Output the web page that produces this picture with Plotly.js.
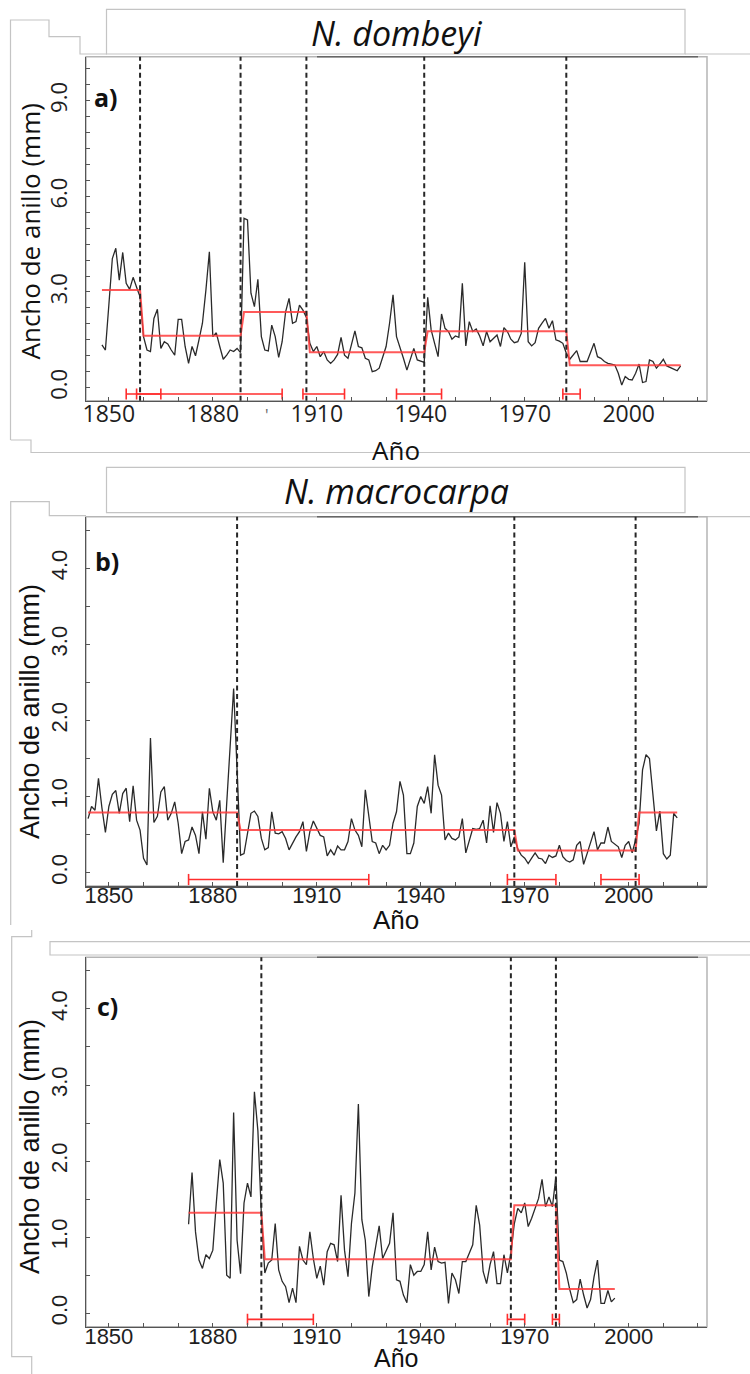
<!DOCTYPE html>
<html>
<head>
<meta charset="utf-8">
<script src="https://cdn.plot.ly/plotly-3.0.1.min.js"></script>
<style>
html,body{margin:0;padding:0;background:#ffffff;}
#chart{width:750px;height:1374px;}
</style>
</head>
<body>
<div id="chart"></div>
<script>
// ---------------- DATA ----------------
// Panel a) N. dombeyi : ring width (mm), yearly from 1848
const startYearA = 1848;
const ringWidthA = [
  1.34, 1.18,
  2.6, 4.05, 4.37, 3.37, 4.24, 3.27, 3.08, 3.46, 3.15, 2.85,
  1.6, 1.18, 1.13, 2.17, 2.46, 1.23, 1.44, 1.37, 1.18, 1.02,
  2.14, 2.14, 1.29, 0.76, 1.29, 1.0, 1.5, 2.02, 3.06, 4.26,
  1.6, 1.72, 1.29, 0.89, 1.02, 1.18, 1.13, 1.23, 1.1, 5.31,
  5.26, 2.96, 2.54, 3.4, 1.6, 1.18, 1.15, 1.96, 1.6, 0.95,
  1.44, 2.38, 2.8, 2.02, 2.07, 2.59, 2.43, 2.2, 1.39, 1.13,
  1.29, 0.97, 1.13, 0.87, 0.76, 0.87, 1.04, 1.58, 1.02, 0.92,
  1.35, 1.78, 1.29, 1.25, 0.92, 0.87, 0.5, 0.53, 0.61, 0.92,
  1.29, 2.02, 2.91, 1.6, 1.29, 0.92, 0.55, 0.87, 1.23, 0.87,
  0.82, 0.79, 2.83, 1.81, 1.39, 0.97, 2.31, 1.86, 1.76, 1.52,
  1.62, 1.58, 3.27, 1.31, 2.07, 1.76, 1.84, 1.62, 1.31, 1.76,
  1.44, 1.55, 1.65, 1.29, 1.88, 1.76, 1.52, 1.41, 1.44, 1.7,
  3.93, 1.44, 1.31, 1.41, 1.86, 2.02, 2.17, 1.86, 2.1, 1.5,
  1.46, 1.39, 1.08, 0.89, 1.02, 1.16, 0.82, 0.82, 0.82, 1.1,
  1.39, 0.97, 0.92, 0.82, 0.76, 0.74, 0.71, 0.45, 0.08, 0.35,
  0.26, 0.24, 0.45, 0.74, 0.16, 0.19, 0.87, 0.82, 0.61, 0.74,
  0.89, 0.68, 0.64, 0.58, 0.53, 0.68
];
const regimeStartA = [1848, 1860, 1889, 1908, 1942, 1983];
const regimeEndA   = [1859, 1888, 1907, 1941, 1982, 2015];
const regimeMeanA  = [3.06, 1.63, 2.37, 1.11, 1.77, 0.70];
const shiftYearsA  = [1859, 1888, 1907, 1941, 1982];
const ciStartA = [1855, 1858, 1906, 1933, 1981];
const ciEndA   = [1865, 1900, 1918, 1946, 1986];
const ciLevelA = -0.2;

// Panel b) N. macrocarpa
const startYearB = 1844;
const ringWidthB = [
  0.71, 0.87, 0.82, 1.24, 0.85, 0.53,
  0.87, 1.03, 1.08, 0.78, 1.04, 1.11, 0.67, 1.14, 0.69, 0.56,
  0.19, 0.1, 1.77, 0.66, 0.74, 1.06, 1.13, 0.69, 0.78, 0.93,
  0.65, 0.25, 0.41, 0.43, 0.6, 0.49, 0.25, 0.8, 0.44, 1.11,
  0.8, 0.69, 0.95, 0.13, 0.91, 1.61, 2.42, 1.35, 0.23, 0.25,
  0.52, 0.78, 0.81, 0.74, 0.45, 0.3, 0.33, 0.8, 0.52, 0.51,
  0.54, 0.45, 0.3, 0.39, 0.47, 0.54, 0.67, 0.28, 0.54, 0.68,
  0.58, 0.49, 0.47, 0.22, 0.3, 0.23, 0.35, 0.3, 0.3, 0.41,
  0.71, 0.56, 0.49, 0.34, 1.09, 0.74, 0.41, 0.39, 0.25, 0.36,
  0.3, 0.36, 0.65, 0.8, 1.2, 1.02, 0.25, 0.25, 0.39, 0.87,
  1.0, 0.91, 1.13, 0.78, 1.55, 1.15, 1.02, 0.43, 0.52, 0.45,
  0.43, 0.47, 0.71, 0.26, 0.43, 0.58, 0.57, 0.58, 0.69, 0.39,
  0.88, 0.53, 0.92, 0.78, 0.41, 0.67, 0.34, 0.47, 0.31, 0.23,
  0.19, 0.12, 0.19, 0.26, 0.19, 0.18, 0.12, 0.23, 0.2, 0.22,
  0.36, 0.21, 0.16, 0.14, 0.17, 0.36, 0.41, 0.11, 0.25, 0.41,
  0.54, 0.3, 0.39, 0.39, 0.6, 0.41, 0.38, 0.34, 0.2, 0.36,
  0.41, 0.26, 0.43, 0.65, 1.35, 1.55, 1.5, 1.0, 0.55, 0.81,
  0.25, 0.18, 0.23, 0.78, 0.72
];
const regimeStartB = [1844, 1888, 1968, 2003];
const regimeEndB   = [1887, 1967, 2002, 2014];
const regimeMeanB  = [0.79, 0.56, 0.29, 0.79];
const shiftYearsB  = [1887, 1967, 2002];
const ciStartB = [1873, 1965, 1992];
const ciEndB   = [1925, 1979, 2003];
const ciLevelB = -0.09;

// Panel c)
const startYearC = 1873;
const ringWidthC = [
  1.17, 1.85, 1.07, 0.7, 0.59, 0.77, 0.72,
  0.83, 1.45, 2.02, 1.71, 0.5, 0.46, 2.64, 0.96, 0.52, 1.45,
  1.71, 1.53, 2.91, 2.4, 1.3, 0.53, 0.66, 0.7, 1.18, 0.57,
  0.42, 0.35, 0.14, 0.33, 0.14, 0.88, 0.7, 0.64, 1.07, 0.72,
  0.46, 0.62, 0.37, 0.81, 0.92, 0.9, 0.68, 1.55, 0.83, 0.48,
  1.18, 1.58, 2.75, 1.23, 0.96, 0.22, 0.61, 0.88, 1.15, 0.72,
  0.83, 0.92, 1.32, 0.44, 0.42, 0.24, 0.14, 0.64, 0.5, 0.55,
  0.55, 0.64, 1.07, 0.57, 0.87, 0.68, 0.66, 0.67, 0.13, 0.53,
  0.44, 0.26, 0.68, 0.68, 0.79, 0.9, 1.42, 1.16, 0.55, 0.39,
  0.64, 0.81, 0.39, 0.39, 0.77, 0.53, 0.79, 1.18, 1.38, 1.32,
  1.45, 1.14, 1.25, 1.38, 1.51, 1.76, 1.4, 1.53, 1.4, 1.8,
  0.7, 0.68, 0.53, 0.31, 0.14, 0.18, 0.45, 0.24, 0.07, 0.18,
  0.48, 0.7, 0.13, 0.13, 0.3, 0.15, 0.2
];
const regimeStartC = [1873, 1895, 1967, 1980];
const regimeEndC   = [1894, 1966, 1979, 1996];
const regimeMeanC  = [1.32, 0.71, 1.42, 0.32];
const shiftYearsC  = [1894, 1966, 1979];
const ciStartC = [1890, 1965, 1978];
const ciEndC   = [1909, 1970, 1980];
const ciLevelC = -0.08;

// Axis ticks / labels
const xTickYears  = [1850, 1880, 1910, 1940, 1970, 2000];
const xTickLabels = ['1850', '1880', '1910', '1940', '1970', '2000'];
const yTickValsA  = [0, 3, 6, 9];
const yTickTextA  = ['0.0', '3.0', '6.0', '9.0'];
const yTickValsBC = [0, 1, 2, 3, 4];
const yTickTextBC = ['0.0', '1.0', '2.0', '3.0', '4.0'];

const titleA = 'N. dombeyi';
const titleB = 'N. macrocarpa';
const panelLabels = ['a)', 'b)', 'c)'];
const xTitle = 'Año';
const yTitle = 'Ancho de anillo (mm)';

// ---------------- HELPERS ----------------
const W = 750, H = 1374;
const PX = x => x / W;
const PY = y => 1 - y / H;

function yearsFrom(start, n) { const out = []; for (let i = 0; i < n; i++) out.push(start + i); return out; }
function regimeLine(starts, ends, means) {
  const x = [], y = [];
  for (let i = 0; i < starts.length; i++) { x.push(starts[i], ends[i]); y.push(means[i], means[i]); }
  return {x, y};
}
function ciLine(starts, ends, level) {
  const x = [], y = [];
  for (let i = 0; i < starts.length; i++) { x.push(starts[i], ends[i], null); y.push(level, level, null); }
  return {x, y};
}

const BLACK = '#2a2a2a';
const REDMEAN = 'rgba(255,60,60,0.85)';
const REDCI = '#ff2d2d';

function panelTraces(startYear, values, rs, re, rm, cs, ce, cl, xa, ya) {
  const rl = regimeLine(rs, re, rm);
  const ci = ciLine(cs, ce, cl);
  return [
    {type: 'scatter', mode: 'lines', x: yearsFrom(startYear, values.length), y: values,
     line: {color: BLACK, width: 1.3}, xaxis: xa, yaxis: ya, showlegend: false, hoverinfo: 'skip'},
    {type: 'scatter', mode: 'lines', x: rl.x, y: rl.y,
     line: {color: REDMEAN, width: 2}, xaxis: xa, yaxis: ya, showlegend: false, hoverinfo: 'skip'},
    {type: 'scatter', mode: 'lines+markers', x: ci.x, y: ci.y, connectgaps: false,
     line: {color: REDCI, width: 1.6},
     marker: {symbol: 'line-ns-open', size: 8, color: REDCI, line: {color: REDCI, width: 1.6}},
     xaxis: xa, yaxis: ya, showlegend: false, hoverinfo: 'skip'}
  ];
}

const data = [].concat(
  panelTraces(startYearA, ringWidthA, regimeStartA, regimeEndA, regimeMeanA, ciStartA, ciEndA, ciLevelA, 'x', 'y'),
  panelTraces(startYearB, ringWidthB, regimeStartB, regimeEndB, regimeMeanB, ciStartB, ciEndB, ciLevelB, 'x2', 'y2'),
  panelTraces(startYearC, ringWidthC, regimeStartC, regimeEndC, regimeMeanC, ciStartC, ciEndC, ciLevelC, 'x3', 'y3'),
  // empty traces that bind the label-only axes
  [{type: 'scatter', mode: 'lines', x: [], y: [], xaxis: 'x4', yaxis: 'y2', showlegend: false, hoverinfo: 'skip'},
   {type: 'scatter', mode: 'lines', x: [], y: [], xaxis: 'x5', yaxis: 'y3', showlegend: false, hoverinfo: 'skip'},
   {type: 'scatter', mode: 'lines', x: [], y: [], xaxis: 'x6', yaxis: 'y', showlegend: false, hoverinfo: 'skip'}]
);

// ---------------- LAYOUT ----------------
const FA = 'Open Sans, sans-serif';
const FB = 'Liberation Sans, Arial, sans-serif';
const plotL = 86, plotR = 707;
const tops = [56.7, 516.7, 957.3];
const bots = [400.7, 886, 1326.7];
const AX = '#555555';
const XRANGE = [1843.4, 2022.6];

function xAxis(i, fam, size) {
  return {
    domain: [PX(plotL), PX(plotR)],
    anchor: i === 0 ? 'y' : 'y' + (i + 1),
    range: XRANGE,
    tickmode: 'array', tickvals: xTickYears, ticktext: xTickLabels,
    ticks: 'inside', ticklen: 4, tickwidth: 1, tickcolor: AX,
    minor: {tickmode: 'linear', tick0: 1850, dtick: 10, ticks: 'inside', ticklen: 4, tickwidth: 1, tickcolor: AX},
    showticklabels: false,
    showline: true, linecolor: AX, linewidth: 1.5,
    showgrid: false, zeroline: false, automargin: false, fixedrange: true,
    tickfont: {family: fam, size: size, color: '#1e1e1e'},
    title: {text: ''}
  };
}
// label-only axis placed a few px above the drawn axis line (labels sit close to the line)
function labelAxis(over, fam, size, yPix) {
  return {
    domain: [PX(plotL), PX(plotR)],
    overlaying: over, anchor: 'free', position: PY(yPix), side: 'bottom',
    range: XRANGE,
    tickmode: 'array', tickvals: xTickYears, ticktext: xTickLabels,
    ticks: '', showline: false, showgrid: false, zeroline: false, automargin: false, fixedrange: true,
    tickfont: {family: fam, size: size, color: '#1e1e1e'},
    title: {text: ''}
  };
}
function yAxis(i, fam, range, tv, tt) {
  return {
    domain: [PY(bots[i]), PY(tops[i])],
    anchor: i === 0 ? 'x' : 'x' + (i + 1),
    range: range,
    tickmode: 'array', tickvals: tv, ticktext: tt, tickangle: -90,
    ticks: 'inside', ticklen: 4, tickwidth: 1, tickcolor: AX,
    minor: {tickmode: 'linear', tick0: 0, dtick: 0.5, ticks: 'inside', ticklen: 4, tickwidth: 1, tickcolor: AX},
    ticklabelstandoff: 9,
    showline: true, linecolor: AX, linewidth: 1.5,
    showgrid: false, zeroline: false, automargin: false, fixedrange: true,
    tickfont: {family: fam, size: 22, color: '#1e1e1e'},
    title: {text: ''}
  };
}

const GRAY = '#c4c4c4';
function pathFrom(pts) {
  return pts.map((p, k) => (k ? 'L ' : 'M ') + PX(p[0]).toFixed(5) + ',' + PY(p[1]).toFixed(5)).join(' ');
}
const shapes = [];
// decorative frame lines of the composed figure
[
  [[10.5, 440], [10.5, 20], [49, 20], [49, 36.7], [80, 36.7], [80, 54], [107, 54]],
  [[685, 54], [750, 54]],
  [[10.7, 440], [31, 440], [31, 452.5], [750, 452.5]],
  [[10.7, 925], [10.7, 501.7], [49.3, 501.7], [49.3, 515.7], [86, 515.7]],
  [[685, 516.7], [750, 516.7]],
  [[31.7, 930], [31.7, 936.7], [11.7, 936.7], [11.7, 1356.7], [31.7, 1356.7], [31.7, 1374]]
].forEach(pts => shapes.push({type: 'path', xref: 'paper', yref: 'paper', path: pathFrom(pts),
  line: {color: GRAY, width: 1.2}, layer: 'below'}));
// title boxes
[[106.5, 9.3, 685, 54], [106.5, 467.3, 685, 512.7], [50, 941.7, 760, 955]].forEach(b => shapes.push({
  type: 'rect', xref: 'paper', yref: 'paper', x0: PX(b[0]), x1: PX(b[2]), y0: PY(b[3]), y1: PY(b[1]),
  line: {color: GRAY, width: 1.2}, fillcolor: '#ffffff', layer: 'below'}));
// plot frames
for (let i = 0; i < 3; i++) {
  const xr = i === 0 ? 'x domain' : 'x' + (i + 1) + ' domain';
  const yr = i === 0 ? 'y domain' : 'y' + (i + 1) + ' domain';
  shapes.push({type: 'rect', xref: xr, yref: yr, x0: 0, x1: 1, y0: 0, y1: 1,
    line: {color: '#b5b5b5', width: 1.5}, layer: 'below'});
  shapes.push({type: 'line', xref: 'paper', yref: 'paper', x0: PX(317), x1: PX(698), y0: PY(tops[i]), y1: PY(tops[i]),
    line: {color: '#666666', width: 1.5}, layer: 'above'});
}
// regime-shift vertical dashed lines
[[shiftYearsA, 'x', 'y domain'], [shiftYearsB, 'x2', 'y2 domain'], [shiftYearsC, 'x3', 'y3 domain']].forEach(s => {
  s[0].forEach(yr => shapes.push({type: 'line', xref: s[1], yref: s[2], x0: yr, x1: yr, y0: 0, y1: 1,
    line: {color: '#262626', width: 2, dash: '5px,3.5px'}, layer: 'above'}));
});

function txt(text, x, y, fam, size, extra) {
  return Object.assign({text: text, xref: 'paper', yref: 'paper', x: PX(x), y: PY(y), xanchor: 'center', yanchor: 'middle',
    showarrow: false, font: {family: fam, size: size, color: '#111'}}, extra || {});
}
const annotations = [
  txt('<i>' + titleA + '</i>', 396, 33, FA, 34),
  txt('<i>' + titleB + '</i>', 396, 491, FA, 34),
  txt('<b>' + panelLabels[0] + '</b>', 106, 97, FA, 25),
  txt('<b>' + panelLabels[1] + '</b>', 107, 561, FA, 25),
  txt('<b>' + panelLabels[2] + '</b>', 107, 1006, FA, 25),
  // x-axis titles
  txt(xTitle, 396, 450, FA, 26),
  txt(xTitle, 396, 920, FB, 26),
  txt(xTitle, 396, 1373.5, FB, 25, {yanchor: 'bottom'}),
  // y-axis titles
  txt(yTitle, 30, 231.5, FA, 26, {textangle: -90}),
  txt(yTitle, 30, 712, FB, 27, {textangle: -90}),
  txt(yTitle, 30, 1147, FB, 27, {textangle: -90}),
  txt("'", 267, 415, FA, 16, {font: {family: FA, size: 16, color: '#666'}})
];

const layout = {
  width: W, height: H,
  margin: {l: 0, r: 0, t: 0, b: 0, pad: 0},
  paper_bgcolor: '#ffffff', plot_bgcolor: '#ffffff',
  showlegend: false,
  xaxis: xAxis(0, FA, 23),
  xaxis2: xAxis(1, FB, 22),
  xaxis3: xAxis(2, FB, 22),
  xaxis4: labelAxis('x2', FB, 22, 880),
  xaxis5: labelAxis('x3', FB, 22, 1320.7),
  xaxis6: labelAxis('x', FA, 23, 398),
  yaxis: yAxis(0, FA, [-0.41, 10.38], yTickValsA, yTickTextA),
  yaxis2: yAxis(1, FB, [-0.175, 4.678], yTickValsBC, yTickTextBC),
  yaxis3: yAxis(2, FB, [-0.176, 4.678], yTickValsBC, yTickTextBC),
  shapes: shapes,
  annotations: annotations
};

Plotly.newPlot('chart', data, layout, {staticPlot: true, displayModeBar: false});
</script>
</body>
</html>
